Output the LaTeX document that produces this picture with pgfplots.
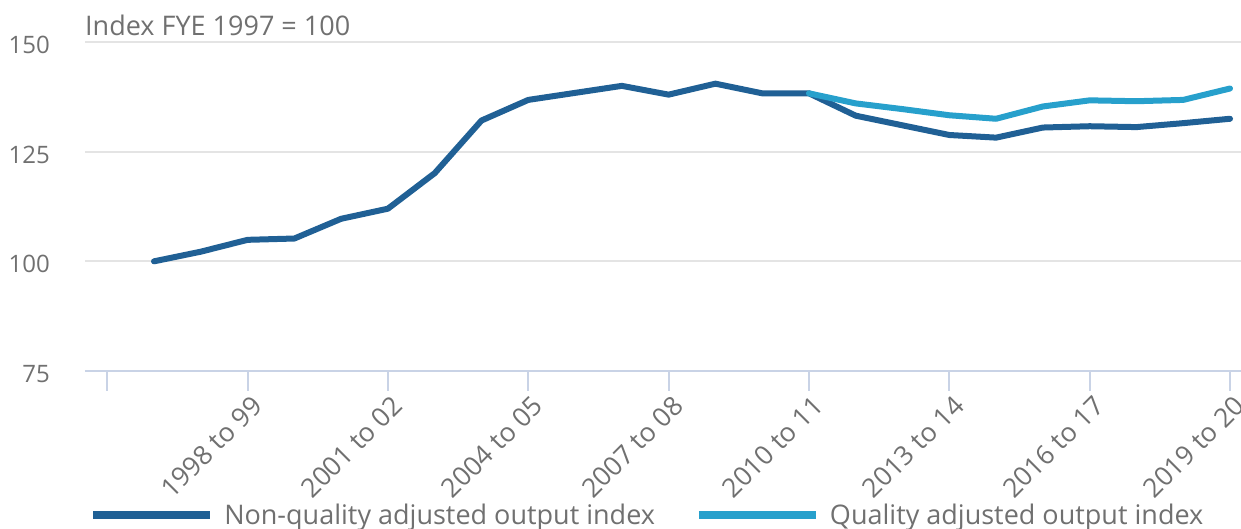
\documentclass[border=0pt]{standalone}
\usepackage{pgfplots}
\pgfplotsset{compat=1.18}
\usepackage{fontspec}
\setmainfont{Open Sans}
\definecolor{darkblue}{HTML}{206095}
\definecolor{lightblue}{HTML}{27A0CC}
\definecolor{txt}{HTML}{707070}
\definecolor{gridc}{HTML}{E4E4E4}
\definecolor{axisc}{HTML}{C9D3E6}
\begin{document}
\begin{tikzpicture}
  \begin{axis}[
    scale only axis,
    width=1156pt, height=329pt,
    xmin=1994.525, xmax=2019.235,
    ymin=75, ymax=150,
    ytick={75,100,125,150},
    xtick={1995,1998,2001,2004,2007,2010,2013,2016,2019},
    xticklabels={,1998 to 99,2001 to 02,2004 to 05,2007 to 08,2010 to 11,2013 to 14,2016 to 17,2019 to 20},
    axis x line*=bottom,
    axis y line*=left,
    x axis line style={draw=axisc, line width=2pt, -},
    y axis line style={draw=none},
    ytick style={draw=none},
    xtick style={draw=axisc, line width=2pt},
    tick align=outside,
    major tick length=20pt,
    ymajorgrids,
    grid style={gridc, line width=2pt},
    /pgf/number format/assume math mode=true,
    tick label style={text=txt},
    yticklabel style={font=\fontsize{24}{28}\selectfont, anchor=east, inner sep=0pt, xshift=-15pt, yshift=-3pt},
    xticklabel style={font=\fontsize{26.5}{30}\selectfont, rotate=45, anchor=north east, inner sep=0pt, yshift=-4pt},
    clip=false,
    legend columns=2,
    legend cell align=left,
    legend image code/.code={\draw[line width=8pt, line cap=butt] (0pt,0pt) -- (117pt,0pt);},
    legend style={draw=none, fill=none, at={(rel axis cs:0.0087,-0.4377)}, anchor=west,
      xshift=-6pt,
      inner sep=0pt, font=\fontsize{27}{31}\selectfont, text=txt,
      nodes={inner sep=0pt},
      /tikz/every odd column/.append style={column sep=10pt},
      /tikz/every even column/.append style={column sep=40pt}},
  ]
  % Non-quality adjusted
  \addplot[darkblue, line width=6pt, line join=round, line cap=round] coordinates {
    (1996,100.0) (1997,102.2) (1998,104.9) (1999,105.2) (2000,109.7)
    (2001,112.0) (2002,120.1) (2003,132.1) (2004,136.8) (2005,138.4)
    (2006,140.0) (2007,138.0) (2008,140.5) (2009,138.3) (2010,138.3)
    (2011,133.2) (2012,131.0) (2013,128.8) (2014,128.2) (2015,130.5)
    (2016,130.8) (2017,130.6) (2018,131.5) (2019,132.5)
  };
  \addlegendentry{Non-quality adjusted output index}
  % Quality adjusted
  \addplot[lightblue, line width=6pt, line join=round, line cap=round] coordinates {
    (2010,138.3) (2011,136.0) (2012,134.7) (2013,133.3) (2014,132.5)
    (2015,135.3) (2016,136.7) (2017,136.5) (2018,136.8) (2019,139.4)
  };
  \addlegendentry{Quality adjusted output index}
  \node[anchor=base west, inner sep=0pt, text=txt, font=\fontsize{27}{31}\selectfont]
    at (rel axis cs:0,1) [yshift=6pt] {Index FYE 1997 = 100};
  \end{axis}
  \pgfresetboundingbox
  \useasboundingbox (-85pt,-158pt) rectangle (1156pt,371pt);
\end{tikzpicture}
\end{document}
